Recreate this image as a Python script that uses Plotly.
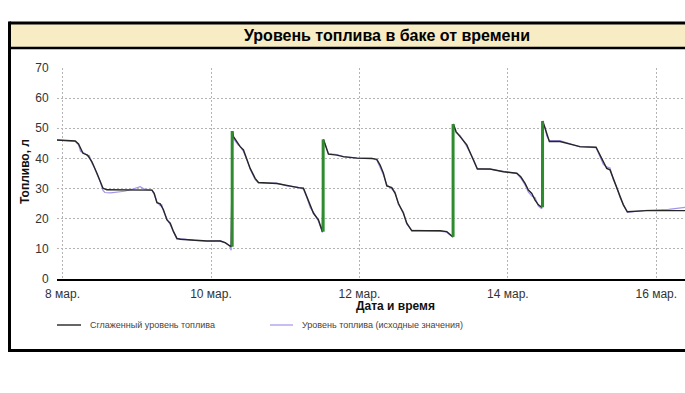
import plotly.graph_objects as go

# ---------------- data ----------------
smooth_time = [
    "2024-03-07 22:12", "2024-03-08 04:06", "2024-03-08 05:10", "2024-03-08 06:36", "2024-03-08 08:05",
    "2024-03-08 09:30", "2024-03-08 11:07", "2024-03-08 12:11", "2024-03-08 13:04", "2024-03-08 14:21",
    "2024-03-08 21:53", "2024-03-09 04:54", "2024-03-09 05:38", "2024-03-09 06:31", "2024-03-09 07:35",
    "2024-03-09 08:39", "2024-03-09 09:45", "2024-03-09 10:49", "2024-03-09 11:53", "2024-03-09 12:59",
    "2024-03-09 14:03", "2024-03-09 18:21", "2024-03-09 22:40", "2024-03-10 02:58", "2024-03-10 04:35",
    "2024-03-10 06:32", "2024-03-10 06:57", "2024-03-10 07:16", "2024-03-10 08:22", "2024-03-10 09:26",
    "2024-03-10 10:30", "2024-03-10 11:36", "2024-03-10 12:40", "2024-03-10 14:17", "2024-03-10 15:21",
    "2024-03-10 21:18", "2024-03-11 00:32", "2024-03-11 04:17", "2024-03-11 05:54", "2024-03-11 07:00",
    "2024-03-11 08:04", "2024-03-11 09:08", "2024-03-11 10:45", "2024-03-11 12:02", "2024-03-11 12:22",
    "2024-03-11 12:55", "2024-03-11 13:59", "2024-03-11 16:42", "2024-03-11 18:50", "2024-03-11 23:10",
    "2024-03-12 04:00", "2024-03-12 05:37", "2024-03-12 06:41", "2024-03-12 07:45", "2024-03-12 08:51",
    "2024-03-12 10:28", "2024-03-12 11:32", "2024-03-12 12:36", "2024-03-12 14:13", "2024-03-12 15:19",
    "2024-03-12 16:56", "2024-03-13 02:05", "2024-03-13 04:15", "2024-03-13 06:11", "2024-03-13 06:23",
    "2024-03-13 07:15", "2024-03-13 08:33", "2024-03-13 10:43", "2024-03-13 12:51", "2024-03-13 14:08",
    "2024-03-13 18:15", "2024-03-13 22:33", "2024-03-14 02:53", "2024-03-14 04:10", "2024-03-14 05:34",
    "2024-03-14 06:38", "2024-03-14 07:44", "2024-03-14 08:48", "2024-03-14 09:52", "2024-03-14 10:58",
    "2024-03-14 11:17", "2024-03-14 12:01", "2024-03-14 12:34", "2024-03-14 13:25", "2024-03-14 16:52",
    "2024-03-14 23:20", "2024-03-15 04:31", "2024-03-15 05:48", "2024-03-15 06:52", "2024-03-15 07:58",
    "2024-03-15 09:02", "2024-03-15 10:06", "2024-03-15 11:12", "2024-03-15 12:16", "2024-03-15 13:20",
    "2024-03-15 14:38", "2024-03-15 20:54", "2024-03-16 12:00",
]
smooth_level = [
    46.1, 45.8, 44.8, 41.7, 41.1,
    38.9, 35.1, 32.6, 30.1, 29.6,
    29.5, 29.5, 28.4, 25.3, 24.9,
    22.9, 19.6, 18.5, 15.7, 13.5,
    13.2, 12.8, 12.6, 12.6, 12.05,
    10.7, 49.1, 47.2, 45.6, 43.9,
    42.8, 40.0, 36.7, 33.4, 32.0,
    31.7, 31.0, 30.3, 30.1, 27.3,
    24.0, 21.8, 19.6, 15.7, 46.3,
    44.5, 41.4, 41.1, 40.6, 40.1,
    40.0, 39.7, 37.8, 35.1, 30.9,
    30.3, 28.4, 25.1, 21.8, 18.5,
    16.0, 16.0, 15.7, 14.0, 51.4,
    48.9, 47.2, 44.5, 39.5, 36.5,
    36.5, 35.6, 35.1, 33.9, 31.7,
    29.5, 28.4, 26.2, 24.6, 23.8,
    52.4, 50.0, 47.8, 45.6, 45.6,
    43.9, 43.7, 41.1, 38.4, 36.7,
    36.2, 33.4, 30.1, 27.3, 24.6,
    22.3, 22.7, 22.7,
]

raw_time = [
    "2024-03-07 22:12", "2024-03-08 04:06", "2024-03-08 05:10", "2024-03-08 05:50", "2024-03-08 06:36",
    "2024-03-08 07:20", "2024-03-08 08:05", "2024-03-08 08:40", "2024-03-08 09:30", "2024-03-08 10:15",
    "2024-03-08 11:07", "2024-03-08 12:11", "2024-03-08 13:04", "2024-03-08 13:40", "2024-03-08 15:30",
    "2024-03-08 18:00", "2024-03-08 20:00", "2024-03-08 22:00", "2024-03-09 01:07", "2024-03-09 02:30",
    "2024-03-09 04:54", "2024-03-09 05:38", "2024-03-09 06:10", "2024-03-09 06:31", "2024-03-09 07:35",
    "2024-03-09 08:05", "2024-03-09 08:39", "2024-03-09 09:45", "2024-03-09 10:15", "2024-03-09 10:49",
    "2024-03-09 11:53", "2024-03-09 12:59", "2024-03-09 14:03", "2024-03-09 18:21", "2024-03-09 22:40",
    "2024-03-10 02:58", "2024-03-10 04:35", "2024-03-10 06:00", "2024-03-10 06:32", "2024-03-10 06:57",
    "2024-03-10 07:16", "2024-03-10 08:22", "2024-03-10 08:50", "2024-03-10 09:26", "2024-03-10 10:30",
    "2024-03-10 11:36", "2024-03-10 12:40", "2024-03-10 14:17", "2024-03-10 15:21", "2024-03-10 21:18",
    "2024-03-11 00:32", "2024-03-11 04:17", "2024-03-11 05:54", "2024-03-11 07:00", "2024-03-11 08:04",
    "2024-03-11 09:08", "2024-03-11 10:45", "2024-03-11 12:02", "2024-03-11 12:22", "2024-03-11 12:55",
    "2024-03-11 13:59", "2024-03-11 16:42", "2024-03-11 18:50", "2024-03-11 23:10", "2024-03-12 04:00",
    "2024-03-12 05:37", "2024-03-12 06:41", "2024-03-12 07:45", "2024-03-12 08:51", "2024-03-12 10:28",
    "2024-03-12 11:32", "2024-03-12 12:36", "2024-03-12 14:13", "2024-03-12 15:19", "2024-03-12 16:56",
    "2024-03-13 02:05", "2024-03-13 04:15", "2024-03-13 06:11", "2024-03-13 06:23", "2024-03-13 07:15",
    "2024-03-13 08:33", "2024-03-13 10:43", "2024-03-13 12:51", "2024-03-13 14:08", "2024-03-13 18:15",
    "2024-03-14 02:53", "2024-03-14 04:10", "2024-03-14 05:34", "2024-03-14 06:38", "2024-03-14 07:44",
    "2024-03-14 08:48", "2024-03-14 09:52", "2024-03-14 10:58", "2024-03-14 11:17", "2024-03-14 12:01",
    "2024-03-14 12:34", "2024-03-14 13:25", "2024-03-14 16:52", "2024-03-14 23:20", "2024-03-15 04:31",
    "2024-03-15 05:48", "2024-03-15 06:52", "2024-03-15 07:58", "2024-03-15 09:02", "2024-03-15 10:06",
    "2024-03-15 11:12", "2024-03-15 12:16", "2024-03-15 13:20", "2024-03-15 14:38", "2024-03-15 20:54",
    "2024-03-16 04:00", "2024-03-16 09:30", "2024-03-16 12:00",
]
raw_level = [
    46.1, 45.7, 44.5, 42.3, 42.0,
    41.6, 40.8, 40.9, 38.4, 37.0,
    34.8, 32.3, 29.4, 28.7, 28.6,
    28.9, 29.1, 29.6, 30.6, 29.8,
    29.5, 28.0, 26.0, 25.6, 24.3,
    24.6, 22.5, 19.9, 19.0, 18.0,
    15.5, 13.2, 13.4, 12.8, 12.6,
    12.7, 12.0, 10.9, 9.5, 48.6,
    46.5, 45.0, 44.4, 44.0, 42.3,
    39.6, 36.4, 33.0, 31.9, 31.8,
    30.9, 30.4, 29.8, 27.0, 23.7,
    22.2, 19.2, 15.4, 45.9, 44.9,
    41.6, 41.3, 40.5, 40.2, 40.0,
    39.5, 37.2, 34.6, 31.3, 30.0,
    28.9, 24.7, 22.2, 18.2, 16.2,
    15.9, 15.5, 13.8, 51.0, 48.5,
    47.6, 44.0, 39.8, 36.6, 36.4,
    35.0, 33.5, 31.2, 28.8, 27.5,
    27.0, 24.2, 23.3, 51.8, 50.3,
    47.5, 45.9, 45.9, 43.8, 43.6,
    40.8, 38.0, 37.2, 36.8, 33.0,
    30.4, 27.0, 24.9, 22.1, 22.8,
    23.1, 23.8, 24.0,
]

refuel_time = ["2024-03-10 06:51", "2024-03-11 12:16", "2024-03-13 06:17", "2024-03-14 11:13"]
refuel_from = [10.7, 15.7, 14.0, 23.8]
refuel_to = [49.1, 46.3, 51.4, 52.4]

tick_dates = ["2024-03-08", "2024-03-10", "2024-03-12", "2024-03-14", "2024-03-16"]
tick_labels = ["8 мар.", "10 мар.", "12 мар.", "14 мар.", "16 мар."]

title_text = "Уровень топлива в баке от времени"
x_title = "Дата и время"
y_title = "Топливо, л"
legend_names = ["Сглаженный уровень топлива", "Уровень топлива (исходные значения)"]

# ---------------- figure ----------------
FONT = "Liberation Sans, Arial, sans-serif"
W, H = 685, 393
ML, MT = 57, 68
PLOT_BOTTOM = 279
MB = H - PLOT_BOTTOM
MR = 0
PW = W - ML - MR
PH = H - MT - MB


def px(x):
    return (x - ML) / PW


def py(y):
    return (PLOT_BOTTOM - y) / PH


fig = go.Figure()

fig.add_trace(go.Scatter(x=raw_time, y=raw_level, mode="lines",
                         line=dict(color="#A395EA", width=1.2), name=legend_names[1],
                         showlegend=False))
fig.add_trace(go.Scatter(x=smooth_time, y=smooth_level, mode="lines",
                         line=dict(color="#262626", width=1.4), name=legend_names[0],
                         showlegend=False))

gx, gy = [], []
for t, a, b in zip(refuel_time, refuel_from, refuel_to):
    gx += [t, t, None]
    gy += [a, b, None]
fig.add_trace(go.Scatter(x=gx, y=gy, mode="lines", line=dict(color="#2E8B2E", width=3),
                         showlegend=False, connectgaps=False))

grid = dict(showgrid=True, gridcolor="#B4B4B4", gridwidth=1, griddash="2px,2px")

fig.update_xaxes(type="date", range=["2024-03-07 22:12", "2024-03-16 09:17"],
                 tickvals=tick_dates, ticktext=tick_labels,
                 tickfont=dict(family=FONT, size=12, color="#333333"),
                 ticks="outside", ticklen=3, tickcolor="rgba(0,0,0,0)",
                 showline=True, linecolor="#000000", linewidth=1.5,
                 zeroline=False, **grid)
fig.update_yaxes(range=[0, 70], dtick=10, tick0=0,
                 tickfont=dict(family=FONT, size=12, color="#333333"),
                 ticks="outside", ticklen=5, tickcolor="rgba(0,0,0,0)",
                 showline=False, zeroline=False, **grid)

shapes = []
X_FAR = 700
shapes.append(dict(type="rect", xref="paper", yref="paper", x0=px(9.5), x1=px(X_FAR),
                   y0=py(48), y1=py(23), fillcolor="#F7ECC4", line=dict(width=0), layer="below"))
line_k = dict(color="#000000", width=3)
shapes.append(dict(type="line", xref="paper", yref="paper", x0=px(9.5), x1=px(X_FAR),
                   y0=py(23), y1=py(23), line=line_k))
shapes.append(dict(type="line", xref="paper", yref="paper", x0=px(9.5), x1=px(X_FAR),
                   y0=py(48), y1=py(48), line=dict(color="#000000", width=2.5)))
shapes.append(dict(type="line", xref="paper", yref="paper", x0=px(9.5), x1=px(X_FAR),
                   y0=py(350.5), y1=py(350.5), line=line_k))
shapes.append(dict(type="line", xref="paper", yref="paper", x0=px(9.5), x1=px(9.5),
                   y0=py(21.5), y1=py(352), line=line_k))
shapes.append(dict(type="line", xref="paper", yref="paper", x0=px(57), x1=px(81),
                   y0=py(325), y1=py(325), line=dict(color="#333333", width=1.5)))
shapes.append(dict(type="line", xref="paper", yref="paper", x0=px(270), x1=px(293),
                   y0=py(325), y1=py(325), line=dict(color="#B6A9EF", width=1.5)))

ann = []
ann.append(dict(text="<b>" + title_text + "</b>", xref="paper", yref="paper",
                x=px(387), y=py(35.5), xanchor="center", yanchor="middle", showarrow=False,
                font=dict(family=FONT, size=16, color="#000000")))
ann.append(dict(text="<b>" + x_title + "</b>", xref="paper", yref="paper",
                x=px(395), y=py(306), xanchor="center", yanchor="middle", showarrow=False,
                font=dict(family=FONT, size=12, color="#111111")))
ann.append(dict(text="<b>" + y_title + "</b>", xref="paper", yref="paper",
                x=px(25), y=py(172), xanchor="center", yanchor="middle", showarrow=False,
                textangle=-90, font=dict(family=FONT, size=12, color="#111111")))
ann.append(dict(text=legend_names[0], xref="paper", yref="paper",
                x=px(88), y=py(325), xanchor="left", yanchor="middle", showarrow=False,
                font=dict(family=FONT, size=9, color="#444444")))
ann.append(dict(text=legend_names[1], xref="paper", yref="paper",
                x=px(300), y=py(325), xanchor="left", yanchor="middle", showarrow=False,
                font=dict(family=FONT, size=9, color="#444444")))

fig.update_layout(width=W, height=H, margin=dict(l=ML, r=MR, t=MT, b=MB, pad=0),
                  paper_bgcolor="#FFFFFF", plot_bgcolor="#FFFFFF",
                  shapes=shapes, annotations=ann, showlegend=False,
                  font=dict(family=FONT))

fig.write_html("out.html", include_plotlyjs=True, config={"displayModeBar": False},
               post_script="document.body.style.margin='0';"
                           "document.body.style.overflow='hidden';"
                           "document.documentElement.style.overflow='hidden';")
